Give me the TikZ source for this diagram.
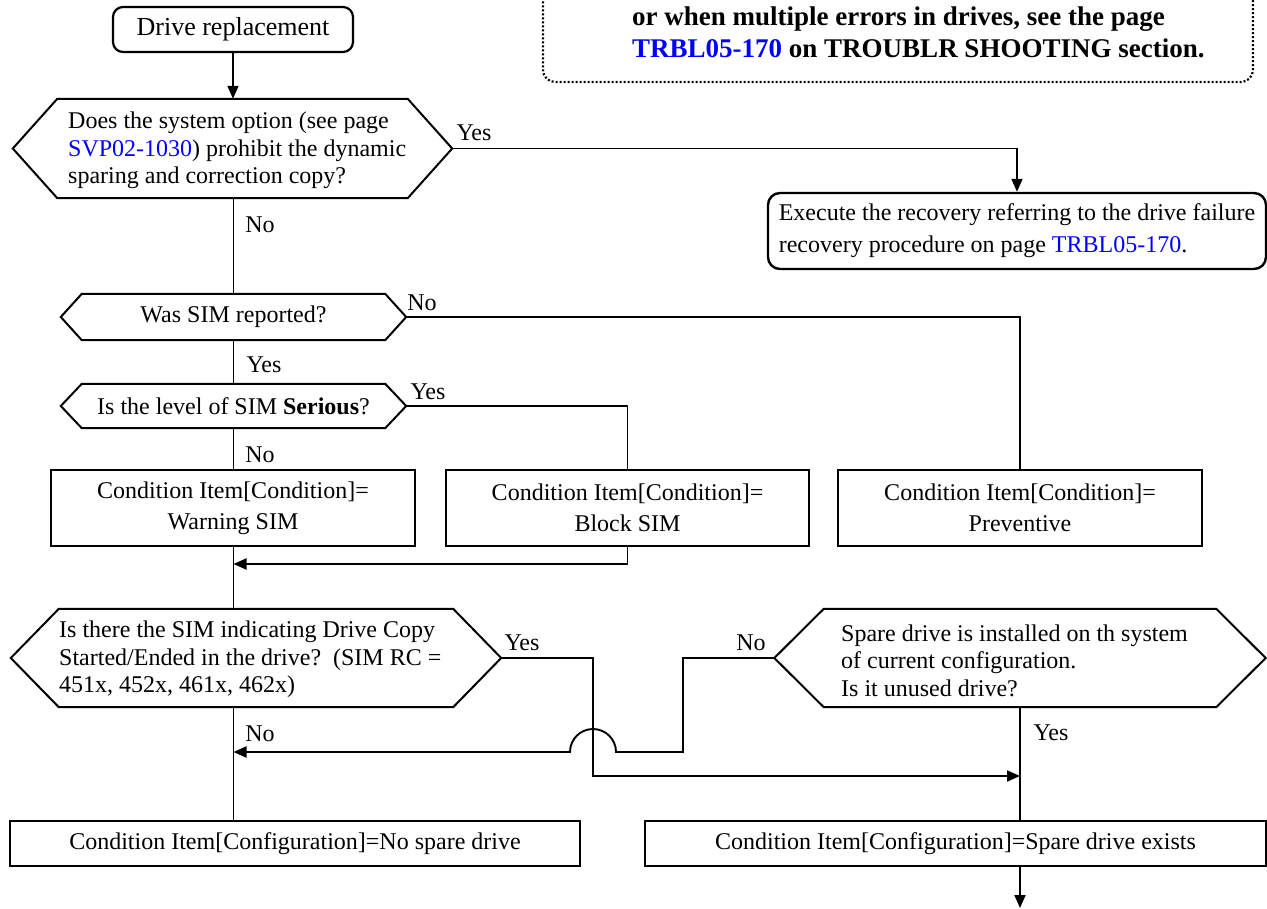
\documentclass[tikz,border=0pt]{standalone}
\usepackage{fontspec}
\setmainfont{Liberation Serif}
\usetikzlibrary{arrows.meta}
\definecolor{linkblue}{RGB}{0,0,255}
\newcommand\hexpath[2]{%
  \draw[hexline] (#1.north west) -- (#1.north east) -- ([xshift=#2]#1.east) -- (#1.south east) -- (#1.south west) -- ([xshift=-#2]#1.west) -- cycle;
  \coordinate (#1E) at ([xshift=#2]#1.east);
  \coordinate (#1W) at ([xshift=-#2]#1.west);}
\begin{document}
\frenchspacing
\begin{tikzpicture}[x=1pt,y=-1pt,
  every node/.style={font=\fontsize{24}{27.5}\selectfont},
  conn/.style={line width=1.9pt},
  arr/.style={conn,-{Triangle[length=13pt,width=11pt]}},
  hexline/.style={line width=2pt, line join=miter},
  shapebox/.style={draw=none, inner sep=0pt},
  rbox/.style={draw, line width=2.6pt, inner sep=0pt, align=center, font=\fontsize{24}{31}\selectfont},
  txt/.style={inner sep=0pt, align=left},
  lbl/.style={inner sep=0pt},
  notebox/.style={draw, line width=2.2pt, dash pattern=on 2pt off 2pt, rounded corners=12pt, inner sep=0pt},
  notetext/.style={inner sep=0pt, font=\fontsize{27}{34}\selectfont\bfseries}
]
\useasboundingbox (0,0) rectangle (1267,909);
\clip (0,0) rectangle (1267,909);

% note box at top
\node[notebox, minimum width=710pt, minimum height=112pt] (note) at (898,26) {};
\node[notetext, anchor=base west] (nt1) at (632,26) {or when multiple errors in drives, see the page};
\node[notetext, anchor=base west] (nt2) at (632,58) {\textcolor{linkblue}{TRBL05-170} on TROUBLR SHOOTING section.};

\coordinate (col) at (233.5,0);

% start
\node[draw, line width=2.2pt, rounded corners=10pt, minimum width=240pt, minimum height=45pt, inner sep=0pt, font=\fontsize{26}{30}\selectfont] (start) at (233,29.5) {Drive replacement};

% hexagon 1
\node[shapebox, minimum width=350pt, minimum height=99pt] (h1) at (232.5,148.5) {};
\hexpath{h1}{44.5pt}
\node[txt, anchor=west] (h1t) at (68,150.5) {Does the system option (see page\\\textcolor{linkblue}{SVP02-1030}) prohibit the dynamic\\sparing and correction copy?};

% execute box
\node[rbox, line width=2.4pt, rounded corners=12pt, align=left, minimum width=498pt, minimum height=76pt, font=\fontsize{24}{32}\selectfont] (exec) at (1017,231) {Execute the recovery referring to the drive failure\\recovery procedure on page \textcolor{linkblue}{TRBL05-170}.};

% hexagon 2 and 3
\node[shapebox, minimum width=303pt, minimum height=46pt] (h2) at (233.5,317) {Was SIM reported?};
\hexpath{h2}{21pt}
\node[shapebox, minimum width=303pt, minimum height=44pt] (h3) at (233.5,406) {Is the level of SIM \textbf{Serious}?};
\hexpath{h3}{21pt}

% condition boxes
\node[rbox, minimum width=364pt, minimum height=76pt] (warn) at (233,508) {Condition Item[Condition]=\\Warning SIM};
\node[rbox, minimum width=363pt, minimum height=76pt] (block) at (627.5,508) {Condition Item[Condition]=\\Block SIM};
\node[rbox, minimum width=364pt, minimum height=76pt] (prev) at (1020,508) {Condition Item[Condition]=\\Preventive};

% hexagon 4 and 5
\node[shapebox, minimum width=394pt, minimum height=98pt] (h4) at (256,658) {};
\hexpath{h4}{48pt}
\node[txt, anchor=west] (h4t) at (59,659.5) {Is there the SIM indicating Drive Copy\\Started/Ended in the drive?\ \ (SIM RC =\\451x, 452x, 461x, 462x)};
\node[shapebox, minimum width=392pt, minimum height=98pt] (h5) at (1020,658) {};
\hexpath{h5}{49.5pt}
\node[txt, anchor=west] (h5t) at (841,660.5) {Spare drive is installed on th system\\of current configuration.\\Is it unused drive?};

% configuration boxes
\node[rbox, minimum width=570pt, minimum height=45pt] (nospare) at (295,843.5) {Condition Item[Configuration]=No spare drive};
\node[rbox, minimum width=621pt, minimum height=45pt] (spare) at (955.5,843.5) {Condition Item[Configuration]=Spare drive exists};

% labels
\node[lbl] (l1) at (474,133) {Yes};
\node[lbl] (l2) at (260,225) {No};
\node[lbl] (l3) at (422,303) {No};
\node[lbl] (l4) at (264,365) {Yes};
\node[lbl] (l5) at (428,392) {Yes};
\node[lbl] (l6) at (260,455) {No};
\node[lbl] (l7) at (522,643) {Yes};
\node[lbl] (l8) at (260,734) {No};
\node[lbl] (l9) at (751,643) {No};
\node[lbl] (l10) at (1051,733) {Yes};

% connectors
\draw[arr] (start.south) -- (start.south |- h1.north);
\draw[arr] (h1E) -| (exec.north);
\draw[conn] (col |- h1.south) -- (col |- h2.north);
\draw[conn] (h2E) -| (prev.north);
\draw[conn] (col |- h2.south) -- (col |- h3.north);
\draw[conn] (h3E) -| (block.north);
\draw[conn] (col |- h3.south) -- (col |- warn.north);
\coordinate (j1) at (233.5,564);
\draw[arr] (block.south) |- (j1);
\draw[conn] (col |- warn.south) -- (col |- h4.north);
\draw[conn] (col |- h4.south) -- (col |- nospare.north);
\coordinate (c4) at (593,776);
\coordinate (c5) at (1020,776);
\draw[arr] (h4E) -| (c4) -- (c5);
\coordinate (c6) at (683,752);
\coordinate (arcR) at (616,752);
\coordinate (c7) at (233.5,752);
\draw[arr] (h5W) -| (c6) -- (arcR) arc[start angle=0, end angle=180, radius=23pt] -- (c7);
\draw[conn] (h5.south) -- (h5.south |- spare.north);
\coordinate (endpt) at (1020,908);
\draw[arr] (endpt |- spare.south) -- (endpt);
\end{tikzpicture}
\end{document}
